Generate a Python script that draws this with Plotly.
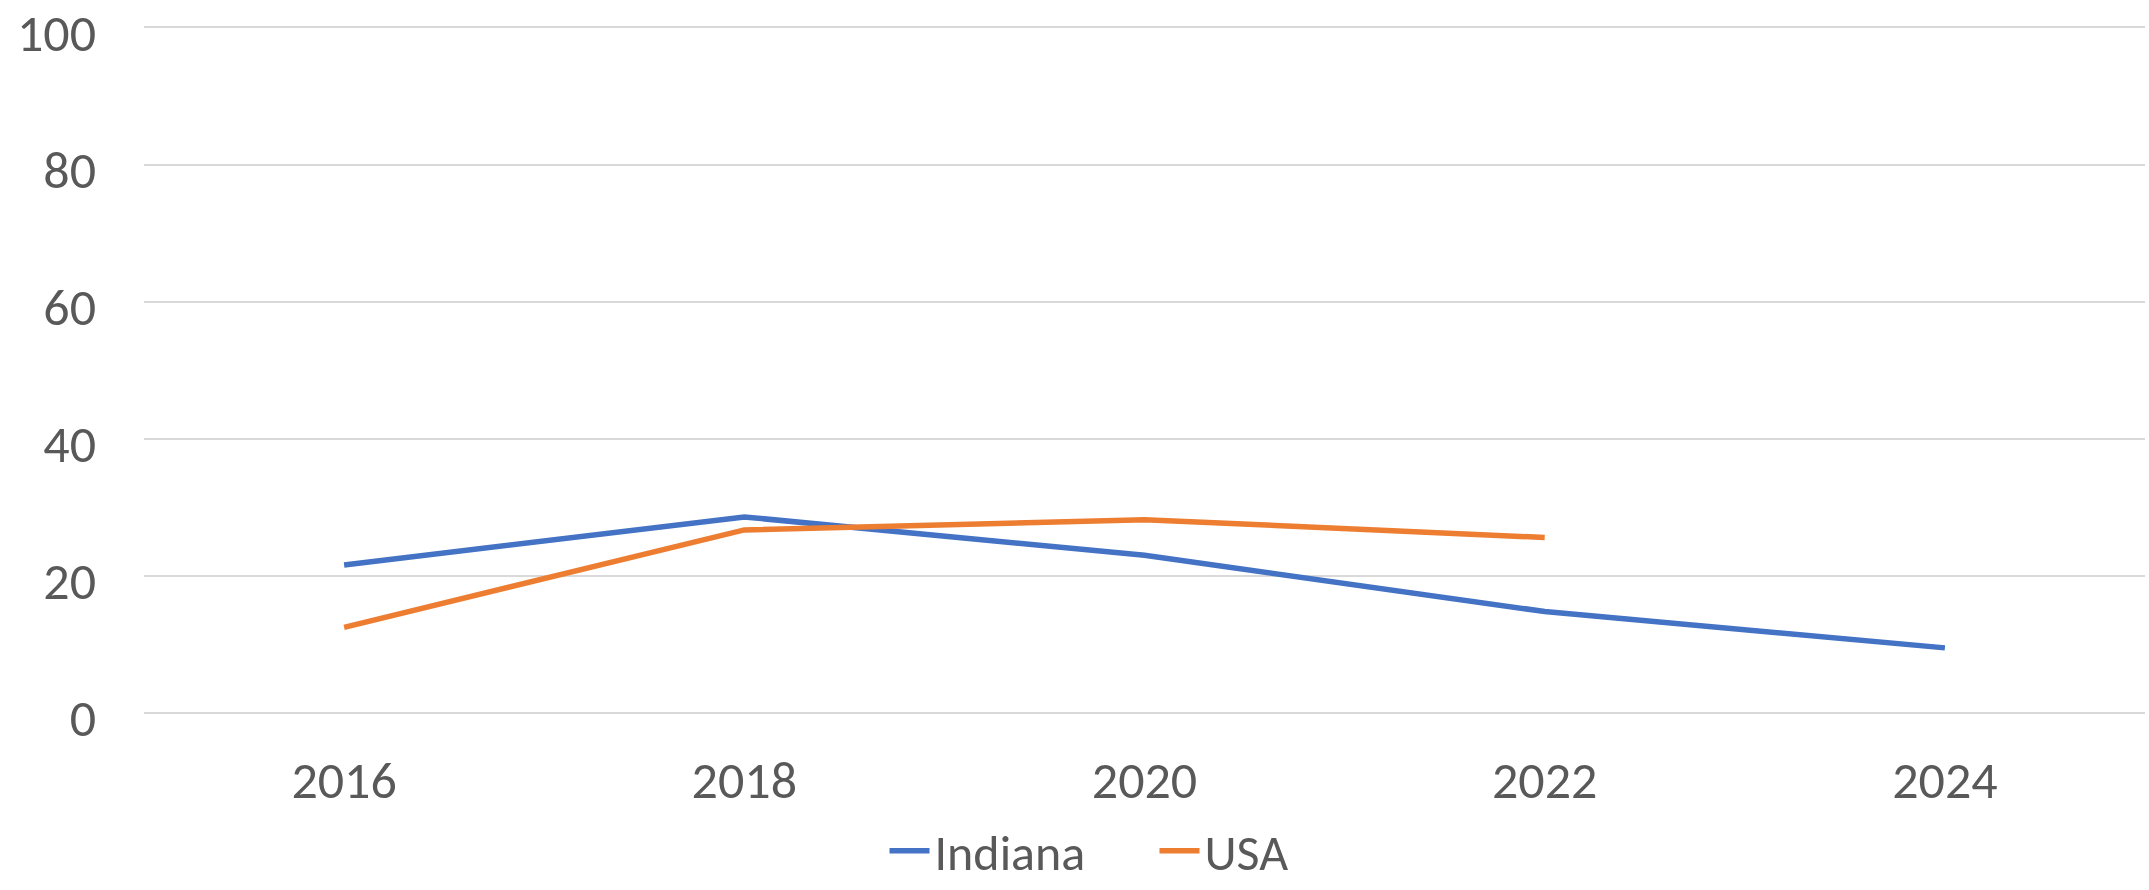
import plotly.graph_objects as go

years = ["2016", "2018", "2020", "2022", "2024"]
indiana = [21.6, 28.6, 23.0, 14.8, 9.5]
usa = [12.5, 26.7, 28.2, 25.6, None]
y_ticks = [0, 20, 40, 60, 80, 100]

FONT = "Carlito, Lato, sans-serif"
GRAY = "#595959"
FS = 52

fig = go.Figure()
fig.add_trace(go.Scatter(x=years, y=indiana, name="Indiana", mode="lines",
                         line=dict(color="#4472C4", width=5.5)))
fig.add_trace(go.Scatter(x=years, y=usa, name="USA", mode="lines",
                         line=dict(color="#ED7D31", width=5.5)))

fig.update_layout(
    width=2149, height=890,
    margin=dict(l=144, r=4, t=24, b=177, autoexpand=False),
    paper_bgcolor="white", plot_bgcolor="white",
    font=dict(family=FONT, size=FS, color=GRAY),
    showlegend=True,
    legend=dict(orientation="h", x=0.505, xanchor="center", y=-0.20, yanchor="middle",
                font=dict(family=FONT, size=50, color=GRAY), itemwidth=40,
                entrywidth=215, bgcolor="rgba(0,0,0,0)"),
)
fig.update_xaxes(type="category", showgrid=False, showline=False, zeroline=False,
                 ticks="", range=[-0.5, 4.5], ticklabelstandoff=32, automargin=False,
                 tickfont=dict(family=FONT, size=FS, color=GRAY))
fig.update_yaxes(range=[0, 100.5], tickvals=y_ticks, showgrid=True, gridcolor="#d9d9d9",
                 gridwidth=2, zeroline=True, zerolinecolor="#d9d9d9", zerolinewidth=2,
                 showline=False, ticks="", ticklabelstandoff=47, automargin=False,
                 ticklabeloverflow="allow", ticklabelshift=5,
                 tickfont=dict(family=FONT, size=FS, color=GRAY))

fig.write_html("out.html", config={"displayModeBar": False},
               post_script="document.body.style.margin='0px';document.body.style.overflow='hidden';")
